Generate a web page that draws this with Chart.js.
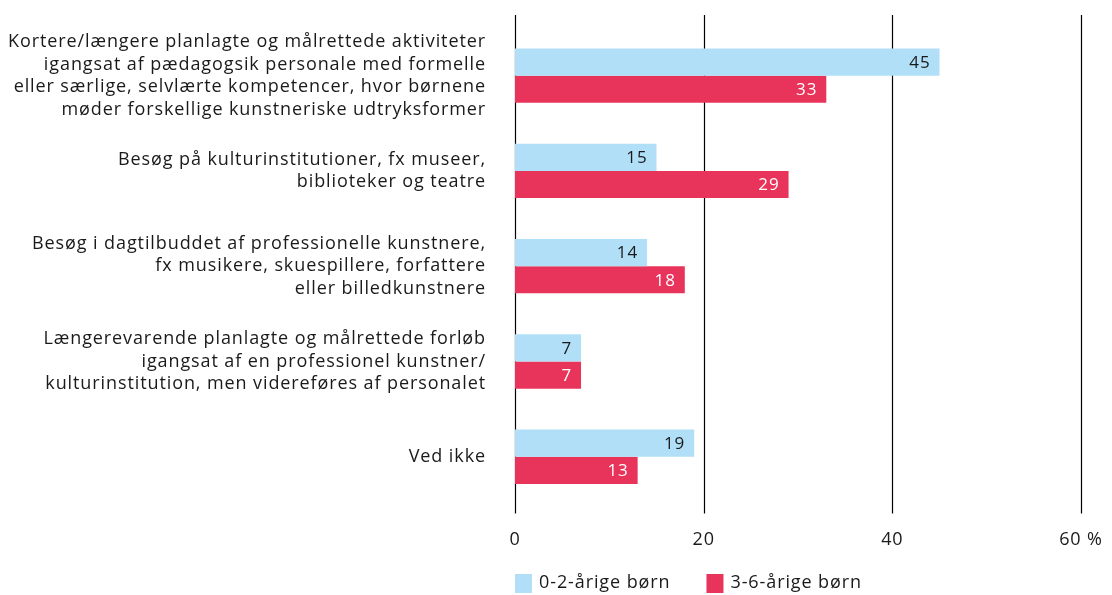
<!DOCTYPE html>
<html>
<head>
<meta charset="utf-8">
<script src="https://cdn.jsdelivr.net/npm/chart.js@4.4.1/dist/chart.umd.min.js"></script>
<style>
  html, body { margin: 0; padding: 0; background: #fff; }
  #wrap { width: 1112px; height: 595px; position: relative; }
</style>
</head>
<body>
<div id="wrap"><canvas id="chart"></canvas></div>
<script>
// categories (multi-line labels, as in the source)
const categories = [
    ['Kortere/længere planlagte og målrettede aktiviteter',
     'igangsat af pædagogsik personale med formelle',
     'eller særlige, selvlærte kompetencer, hvor børnene',
     'møder forskellige kunstneriske udtryksformer'],
    ['Besøg på kulturinstitutioner, fx museer,',
     'biblioteker og teatre'],
    ['Besøg i dagtilbuddet af professionelle kunstnere,',
     'fx musikere, skuespillere, forfattere',
     'eller billedkunstnere'],
    ['Længerevarende planlagte og målrettede forløb',
     'igangsat af en professionel kunstner/',
     'kulturinstitution, men videreføres af personalet'],
    ['Ved ikke']
];
const seriesNames = ['0-2-årige børn', '3-6-årige børn'];
const young = [45, 15, 14, 7, 19];
const older = [33, 29, 18, 7, 13];
const xTicks = [0, 20, 40, 60];

const FONT = '"Open Sans", sans-serif';
const BLUE = '#b1dff7';
const RED = '#e8345a';
const TEXT = '#1a1a1a';
const SPACING = '0.9px';

// the source font runs wider than Open Sans, so space the letters a little
const wideText = {
    id: 'wideText',
    beforeDraw(chart) { chart.ctx.letterSpacing = SPACING; }
};

// value labels at the inner end of each bar
const valueLabels = {
    id: 'valueLabels',
    afterDatasetsDraw(chart) {
        const ctx = chart.ctx;
        ctx.save();
        ctx.font = '17px ' + FONT;
        ctx.textAlign = 'right';
        ctx.textBaseline = 'middle';
        chart.data.datasets.forEach((ds, i) => {
            chart.getDatasetMeta(i).data.forEach((bar, j) => {
                ctx.fillStyle = i === 0 ? TEXT : '#ffffff';
                ctx.fillText(ds.data[j], bar.x - 9, bar.y + 1);
            });
        });
        ctx.restore();
    }
};

// vertical grid lines, running a bit above and below the plot area
const gridLines = {
    id: 'gridLines',
    beforeDatasetsDraw(chart) {
        const ctx = chart.ctx;
        const x = chart.scales.x;
        ctx.save();
        ctx.strokeStyle = '#000';
        ctx.lineWidth = 1.2;
        xTicks.forEach(v => {
            const px = Math.round(x.getPixelForValue(v)) + 0.5;
            ctx.beginPath();
            ctx.moveTo(px, 15);
            ctx.lineTo(px, chart.chartArea.bottom + 9);
            ctx.stroke();
        });
        ctx.restore();
    }
};

// legend under the axis, lined up with the zero line
const bottomLegend = {
    id: 'bottomLegend',
    afterDraw(chart) {
        const ctx = chart.ctx;
        let x = chart.chartArea.left;
        const y = 583;
        ctx.save();
        ctx.letterSpacing = SPACING;
        ctx.font = '18px ' + FONT;
        ctx.textAlign = 'left';
        ctx.textBaseline = 'middle';
        chart.data.datasets.forEach((ds) => {
            ctx.fillStyle = ds.backgroundColor;
            ctx.fillRect(x, y - 9, 17, 19);
            ctx.fillStyle = TEXT;
            ctx.fillText(ds.label, x + 24, y);
            x += 24 + ctx.measureText(ds.label).width + 36;
        });
        ctx.restore();
        ctx.letterSpacing = '0px';
    }
};

new Chart(document.getElementById('chart'), {
    type: 'bar',
    data: {
        labels: categories,
        datasets: [
            { label: seriesNames[0], data: young, backgroundColor: BLUE },
            { label: seriesNames[1], data: older, backgroundColor: RED }
        ]
    },
    options: {
        indexAxis: 'y',
        responsive: true,
        maintainAspectRatio: false,
        animation: false,
        layout: { padding: { top: 28, right: 31, bottom: 27, left: 0 } },
        datasets: {
            bar: { categoryPercentage: 0.57, barPercentage: 1.0 }
        },
        scales: {
            x: {
                min: 0,
                max: 60,
                afterBuildTicks: (scale) => { scale.ticks = xTicks.map(v => ({ value: v })); },
                afterFit: (scale) => { scale.paddingRight = 0; scale.paddingLeft = 0; },
                grid: { display: false },
                border: { display: false },
                ticks: {
                    padding: 17,
                    color: TEXT,
                    font: { family: FONT, size: 18 },
                    callback: (v) => v === 60 ? '60 %' : v
                }
            },
            y: {
                grid: { display: false },
                border: { display: false },
                afterFit: (scale) => {
                    scale.width = 515;
                    scale.paddingTop = 0;
                    scale.paddingBottom = 0;
                },
                ticks: {
                    autoSkip: false,
                    padding: 21,
                    color: TEXT,
                    font: { family: FONT, size: 18, lineHeight: 1.25 }
                }
            }
        },
        plugins: {
            legend: { display: false },
            tooltip: { enabled: false }
        }
    },
    plugins: [wideText, gridLines, valueLabels, bottomLegend]
});
</script>
</body>
</html>
